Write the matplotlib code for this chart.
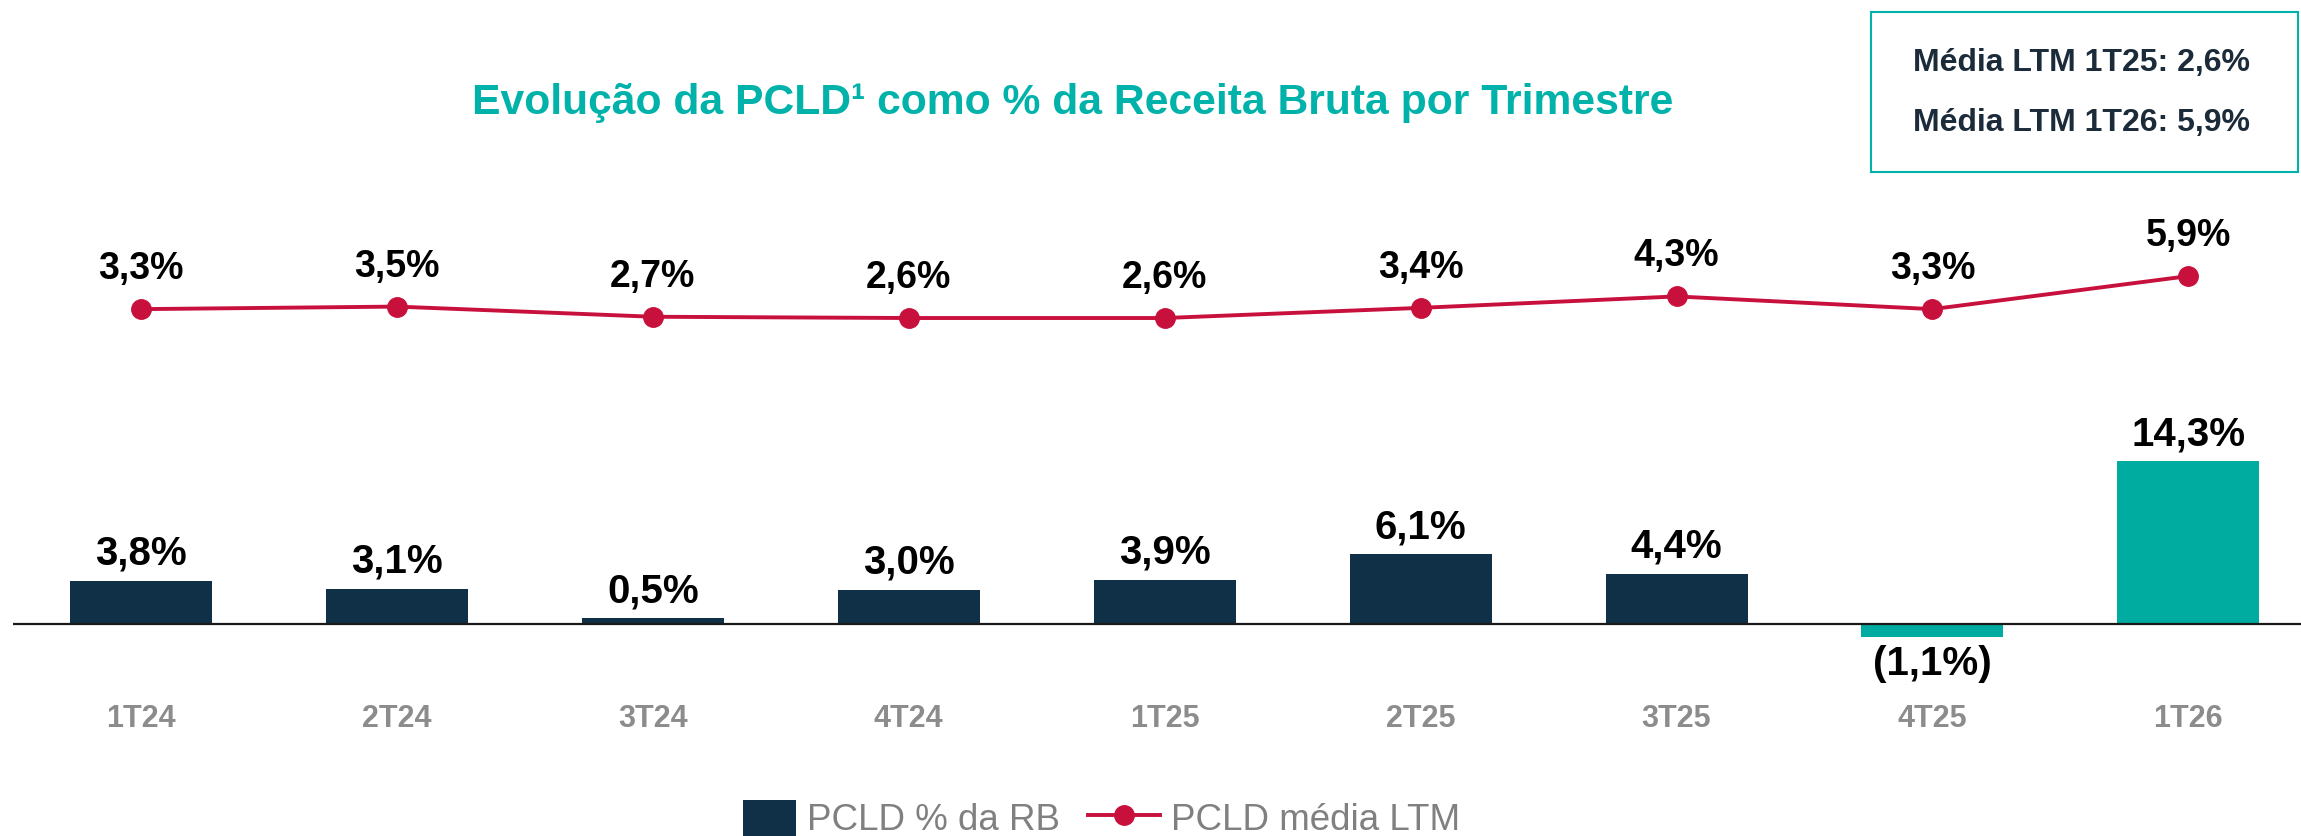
import numpy as np
import matplotlib
matplotlib.use("Agg")
import matplotlib.pyplot as plt
from matplotlib.patches import Rectangle, Patch
from matplotlib.lines import Line2D
from matplotlib.legend_handler import HandlerPatch

plt.rcParams["font.family"] = ["Liberation Sans", "DejaVu Sans"]

# dados
trimestres = ["1T24", "2T24", "3T24", "4T24", "1T25", "2T25", "3T25", "4T25", "1T26"]
pcld_rb = [3.8, 3.1, 0.5, 3.0, 3.9, 6.1, 4.4, -1.1, 14.3]
pcld_ltm = [3.3, 3.5, 2.7, 2.6, 2.6, 3.4, 4.3, 3.3, 5.9]
destaque = [False] * 7 + [True, True]
media_txt = ["Média LTM 1T25: 2,6%", "Média LTM 1T26: 5,9%"]

NAVY = "#0F3046"
TEAL = "#00AC9F"
TITLE_TEAL = "#00B2A9"
RED = "#C8103C"
GRAY = "#8C8C8C"

W, H = 2301, 836
fig = plt.figure(figsize=(W / 100, H / 100), dpi=100)

def fmt(v):
    s = f"{abs(v):.1f}".replace(".", ",") + "%"
    return f"({s})" if v < 0 else s

# eixo das barras
ax = fig.add_axes([13 / W, 146 / H, (W - 13) / W, 540 / H])
x = np.arange(len(trimestres))
cores = [TEAL if d else NAVY for d in destaque]
ax.bar(x, pcld_rb, width=0.555, color=cores, zorder=2)
ax.axhline(0, color="#1a1a1a", lw=1.6, zorder=3)
ax.set_xlim(-0.5, 8.44)
ax.set_ylim(-5.79, 41.58)
ax.set_xticks(x)
ax.set_xticklabels(trimestres, fontsize=22, fontweight="bold", color=GRAY)
ax.tick_params(axis="x", length=0, pad=10)
ax.set_yticks([])
for s in ax.spines.values():
    s.set_visible(False)
ax.patch.set_alpha(0)

for xi, v in zip(x, pcld_rb):
    if v >= 0:
        ax.annotate(fmt(v), (xi, v), xytext=(0, 11.5), textcoords="offset points",
                    ha="center", va="baseline", fontsize=29, fontweight="bold")
    else:
        ax.annotate(fmt(v), (xi, v), xytext=(0, -6), textcoords="offset points",
                    ha="center", va="top", fontsize=29, fontweight="bold")

# eixo da linha (LTM)
ax2 = fig.add_axes(ax.get_position(), sharex=ax)
ax2.plot(x, pcld_ltm, color=RED, lw=2.8, marker="o", markersize=14, zorder=4)
ax2.set_ylim(-26.69, 15.83)
ax2.axis("off")
for xi, v in zip(x, pcld_ltm):
    ax2.annotate(fmt(v), (xi, v), xytext=(0, 21.6), textcoords="offset points",
                 ha="center", va="baseline", fontsize=27, fontweight="bold")

# título
fig.text(1073 / W, 1 - 103 / H, "Evolução da PCLD¹ como % da Receita Bruta por Trimestre",
         ha="center", va="center", fontsize=30.7, fontweight="bold", color=TITLE_TEAL)

# caixa de médias
fig.patches.append(Rectangle((1871 / W, 1 - 172 / H), (2298 - 1871) / W, 160 / H,
                             transform=fig.transFigure, fill=False,
                             edgecolor=TITLE_TEAL, lw=1.5))
for yy, t in zip([63, 123], media_txt):
    fig.text(1913 / W, 1 - yy / H, t, ha="left", va="center", fontsize=23,
             fontweight="bold", color="#1B2B3A")


# quadrado da legenda mais estreito que a linha
def quadrado(legend, orig_handle, xdescent, ydescent, width, height, fontsize):
    w = 0.74 * width
    return Rectangle((width - w - xdescent, -ydescent - 0.1 * height), w, height * 1.1)


handles = [Patch(facecolor=NAVY, edgecolor="none"),
           Line2D([], [], color=RED, lw=2.8, marker="o", markersize=14)]
fig.legend(handles, ["PCLD % da RB", "PCLD média LTM"], loc="center",
           bbox_to_anchor=(1092 / W, 17 / H), ncol=2, frameon=False,
           fontsize=26.5, labelcolor="#808080", handlelength=1.95,
           handleheight=1.1, handletextpad=0.3, columnspacing=0.75,
           handler_map={Patch: HandlerPatch(patch_func=quadrado)})

fig.savefig("out.png", dpi=100)
